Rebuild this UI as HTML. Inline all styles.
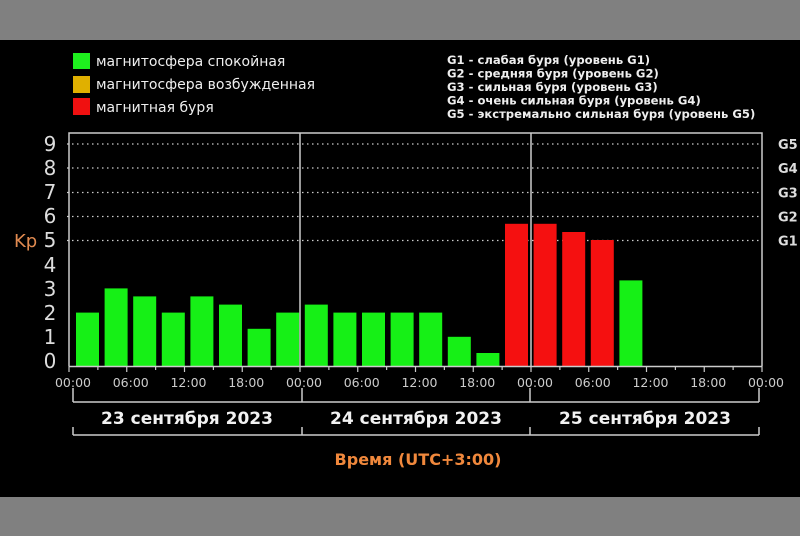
<!DOCTYPE html>
<html><head><meta charset="utf-8"><style>
html,body{margin:0;padding:0;background:#808080;}
svg{display:block;}
text{font-family:"DejaVu Sans","Liberation Sans",sans-serif;}
</style></head><body>
<svg width="800" height="536" xmlns="http://www.w3.org/2000/svg">
<rect x="0" y="0" width="800" height="536" fill="#808080"/>
<rect x="0" y="40" width="800" height="457" fill="#000"/>
<rect x="73" y="53" width="17" height="16" fill="#1ef01e"/>
<rect x="73" y="76" width="17" height="17" fill="#e0b000"/>
<rect x="73" y="98" width="17" height="17" fill="#f01010"/>
<g fill="#eee" font-size="14">
<text x="96" y="66">магнитосфера спокойная</text>
<text x="96" y="89">магнитосфера возбужденная</text>
<text x="96" y="112">магнитная буря</text>
</g>
<g fill="#eee" font-size="11.6" font-weight="bold">
<text x="447" y="64">G1 - слабая буря (уровень G1)</text>
<text x="447" y="77.5">G2 - средняя буря (уровень G2)</text>
<text x="447" y="91">G3 - сильная буря (уровень G3)</text>
<text x="447" y="104.5">G4 - очень сильная буря (уровень G4)</text>
<text x="447" y="118">G5 - экстремально сильная буря (уровень G5)</text>
</g>
<g stroke="#ccc" stroke-width="1.2" stroke-dasharray="1.5,3.5">
<line x1="67" y1="144" x2="762" y2="144"/>
<line x1="67" y1="168" x2="762" y2="168"/>
<line x1="67" y1="192.5" x2="762" y2="192.5"/>
<line x1="67" y1="216.5" x2="762" y2="216.5"/>
<line x1="67" y1="240.5" x2="762" y2="240.5"/>
</g>
<g id="bars"></g>
<g stroke="#ccc" stroke-width="1.5" fill="none">
<polyline points="69,366 69,133 762,133 762,366"/>
<line x1="300" y1="133" x2="300" y2="366"/>
<line x1="531" y1="133" x2="531" y2="366"/>
<line x1="69" y1="366.5" x2="762" y2="366.5"/>
</g>
<g fill="#ddd" font-size="20" font-family="Liberation Sans" text-anchor="middle">
<text x="50" y="151">9</text><text x="50" y="175">8</text><text x="50" y="199">7</text>
<text x="50" y="223">6</text><text x="50" y="247">5</text><text x="50" y="272">4</text>
<text x="50" y="296">3</text><text x="50" y="320">2</text><text x="50" y="344">1</text>
<text x="50" y="368">0</text>
</g>
<text x="14" y="247" fill="#e08a50" font-size="18" font-family="Liberation Sans">Kp</text>
<g fill="#ddd" font-size="13" font-weight="bold">
<text x="778" y="149">G5</text><text x="778" y="173">G4</text><text x="778" y="197.5">G3</text>
<text x="778" y="221.5">G2</text><text x="778" y="245.5">G1</text>
</g>
<g fill="#ccc" font-size="12.5" text-anchor="middle" id="ticks"></g>
<g stroke="#ccc" stroke-width="1.5" fill="none">
<line x1="73" y1="402" x2="759" y2="402"/>
<line x1="73" y1="435" x2="759" y2="435"/>
<line x1="73" y1="388" x2="73" y2="402"/><line x1="73" y1="427" x2="73" y2="435"/>
<line x1="302" y1="388" x2="302" y2="402"/><line x1="302" y1="427" x2="302" y2="435"/>
<line x1="530" y1="388" x2="530" y2="402"/><line x1="530" y1="427" x2="530" y2="435"/>
<line x1="759" y1="388" x2="759" y2="402"/><line x1="759" y1="427" x2="759" y2="435"/>
</g>
<g fill="#f2f2f2" font-size="17" font-weight="bold" text-anchor="middle">
<text x="187" y="424">23 сентября 2023</text>
<text x="416" y="424">24 сентября 2023</text>
<text x="645" y="424">25 сентября 2023</text>
</g>
<text x="418" y="465" fill="#f0883c" font-size="16" font-weight="bold" text-anchor="middle">Время (UTC+3:00)</text>
</svg>
<script>
var v=[2,3,2.67,2,2.67,2.33,1.33,2,2.33,2,2,2,2,1,0.33,5.67,5.67,5.33,5,3.33];
var g=document.getElementById('bars'),h='';
v.forEach(function(k,i){var x=76+28.6*i,y=361-24.2*k;var c=k>=5?'#f51010':'#16f016';
h+='<rect x="'+x.toFixed(1)+'" y="'+y.toFixed(1)+'" width="23" height="'+(366-y).toFixed(1)+'" fill="'+c+'"/>';});
g.innerHTML=h;
var t=document.getElementById('ticks'),s='',lb=['00:00','06:00','12:00','18:00'];
for(var i=0;i<=24;i++){var x=69+i*28.875;
s+='<line x1="'+x+'" y1="366" x2="'+x+'" y2="'+(i%2?370:372)+'" stroke="#ccc" stroke-width="1.2"/>';
if(i%2==0)s+='<text x="'+(x+4)+'" y="387">'+lb[(i/2)%4]+'</text>';}
t.innerHTML=s;
</script>
</body></html>
